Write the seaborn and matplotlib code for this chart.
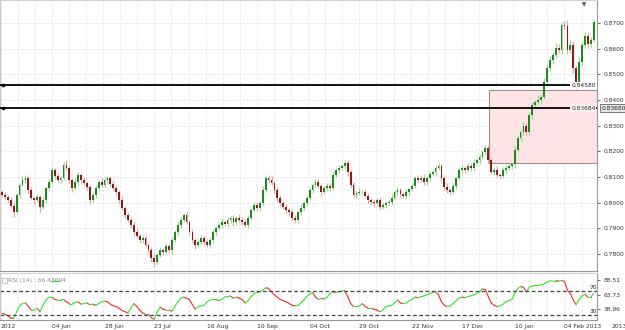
import matplotlib
matplotlib.use("Agg")
import matplotlib.pyplot as plt
import matplotlib.transforms as mtransforms
from matplotlib.patches import Rectangle
import numpy as np
import pandas as pd
import seaborn as sns

# daily closes, 10 May 2012 .. 18 Feb 2013 (weekdays)
close = [
    0.8030, 0.8022, 0.8010, 0.7987, 0.7963, 0.8030, 0.8069, 0.8088, 0.8096, 0.8049,
    0.8018, 0.8010, 0.8022, 0.7983, 0.8010, 0.8057, 0.8080, 0.8127, 0.8104, 0.8088,
    0.8096, 0.8147, 0.8135, 0.8088, 0.8057, 0.8080, 0.8108, 0.8088, 0.8076, 0.8061,
    0.8010, 0.8030, 0.8057, 0.8080, 0.8069, 0.8088, 0.8096, 0.8072, 0.8057, 0.8041,
    0.8010, 0.7979, 0.7952, 0.7932, 0.7913, 0.7885, 0.7870, 0.7854, 0.7862, 0.7835,
    0.7815, 0.7784, 0.7768, 0.7796, 0.7815, 0.7807, 0.7831, 0.7815, 0.7854, 0.7885,
    0.7913, 0.7932, 0.7952, 0.7924, 0.7885, 0.7854, 0.7835, 0.7846, 0.7862, 0.7846,
    0.7835, 0.7854, 0.7885, 0.7901, 0.7913, 0.7924, 0.7916, 0.7932, 0.7940, 0.7924,
    0.7940, 0.7932, 0.7924, 0.7913, 0.7940, 0.7971, 0.7991, 0.7979, 0.7998, 0.8049,
    0.8096, 0.8088, 0.8076, 0.8049, 0.8018, 0.7998, 0.7983, 0.7971, 0.7963, 0.7940,
    0.7932, 0.7963, 0.7979, 0.7998, 0.8018, 0.8049, 0.8069, 0.8080, 0.8065, 0.8041,
    0.8057, 0.8065, 0.8057, 0.8108, 0.8127, 0.8135, 0.8143, 0.8154, 0.8119, 0.8069,
    0.8030, 0.8037, 0.8041, 0.8041, 0.8026, 0.8010, 0.8002, 0.7998, 0.8010, 0.7983,
    0.7991, 0.7998, 0.8002, 0.8018, 0.8041, 0.8049, 0.8033, 0.8026, 0.8041, 0.8053,
    0.8065, 0.8096, 0.8088, 0.8096, 0.8080, 0.8096, 0.8111, 0.8119, 0.8135, 0.8143,
    0.8096, 0.8061, 0.8049, 0.8041, 0.8065, 0.8096, 0.8127, 0.8135, 0.8127, 0.8143,
    0.8135, 0.8154, 0.8166, 0.8178, 0.8197, 0.8213, 0.8166, 0.8119, 0.8127, 0.8108,
    0.8104, 0.8127, 0.8135, 0.8143, 0.8150, 0.8205, 0.8252, 0.8275, 0.8299, 0.8275,
    0.8342, 0.8381, 0.8392, 0.8400, 0.8412, 0.8470, 0.8525, 0.8556, 0.8576, 0.8603,
    0.8595, 0.8693, 0.8689, 0.8595, 0.8615, 0.8525, 0.8462, 0.8548, 0.8615, 0.8650,
    0.8618, 0.8634, 0.8704,
]
first_open = 0.8041

# wick lengths above / below the body, in pips
up_wick = [
    8, 12, 6, 10, 15, 9, 7, 14, 10, 6, 12, 9, 11, 8, 16, 7, 10, 13, 9, 12,
    8, 10, 18, 6, 9, 14, 11, 7, 12, 9, 6, 13, 10, 8, 15, 11, 9, 7, 12, 10,
    8, 14, 9, 11, 7, 13, 10, 8, 12, 9, 6, 11, 15, 9, 10, 8, 13, 7, 12, 9,
    14, 10, 8, 16, 9, 12, 7, 11, 10, 8, 13, 9, 12, 8, 10, 14, 7, 11, 9, 12,
    8, 15, 10, 9, 13, 7, 12, 10, 8, 14, 9, 11, 16, 8, 10, 12, 9, 13, 7, 11,
    10, 8, 14, 9, 12, 10, 7, 13, 11, 9, 8, 12, 10, 15, 9, 11, 8, 13, 10, 7,
    12, 9, 14, 8, 11, 10, 9, 13, 7, 12, 10, 8, 11, 14, 9, 12, 7, 10, 13, 8,
    11, 9, 12, 10, 16, 8, 13, 9, 11, 10, 7, 12, 14, 9, 10, 8, 13, 11, 9, 12,
    10, 15, 8, 11, 9, 13, 10, 7, 12, 14, 9, 11, 10, 13, 8, 16, 12, 9, 14, 11,
    10, 13, 9, 18, 12, 15, 10, 14, 11, 20, 16, 12, 14, 22, 18, 15, 12, 19, 13, 16,
    14, 12, 10,
]
lo_wick = [
    10, 7, 13, 9, 18, 8, 11, 6, 12, 10, 9, 14, 8, 20, 10, 12, 7, 9, 13, 8,
    11, 9, 7, 12, 15, 8, 10, 13, 9, 11, 16, 8, 12, 10, 7, 9, 14, 11, 8, 12,
    10, 9, 13, 8, 11, 14, 9, 12, 10, 8, 13, 15, 20, 10, 9, 12, 8, 11, 14, 9,
    10, 12, 8, 9, 13, 11, 16, 10, 8, 12, 9, 14, 10, 11, 8, 13, 9, 12, 10, 15,
    11, 8, 12, 10, 14, 9, 7, 11, 13, 10, 8, 12, 9, 11, 14, 10, 8, 13, 16, 9,
    12, 10, 11, 8, 13, 9, 12, 10, 7, 14, 9, 11, 13, 8, 10, 12, 9, 11, 14, 10,
    8, 13, 9, 11, 10, 12, 8, 14, 9, 11, 10, 12, 9, 13, 8, 11, 10, 9, 12, 14,
    8, 10, 13, 9, 11, 10, 12, 8, 14, 9, 11, 13, 10, 12, 9, 11, 8, 12, 10, 9,
    13, 11, 9, 14, 10, 12, 16, 9, 11, 10, 12, 9, 13, 10, 11, 14, 9, 12, 10, 13,
    11, 15, 12, 10, 14, 9, 13, 11, 16, 12, 10, 14, 12, 15, 11, 18, 24, 13, 10, 12,
    14, 11, 9,
]

# RSI(14)
rsi = [
    32, 31, 28, 24, 23.5, 35, 45, 49, 50, 44, 38, 38, 41, 35, 46, 55, 60, 60, 56, 55,
    55, 56, 52, 49, 49, 51, 52, 48, 49, 50, 47, 48, 46, 49, 52, 53, 52, 48, 45, 44,
    41, 37, 35, 33, 41, 49, 44, 38, 33, 31, 31, 25, 22, 35, 43, 39, 38, 38, 36, 44,
    52, 58, 60, 58, 56, 47, 39, 44, 45, 46, 52, 55, 56, 56, 54, 56, 60, 61, 62, 58,
    60, 58, 56, 50, 54, 61, 66, 68, 69, 72, 76, 75, 69, 64, 60, 56, 54, 52, 49, 46,
    45, 46, 50, 55, 61, 65, 68, 60, 56, 58, 57, 60, 66, 69, 68, 69, 70.5, 71, 61, 49,
    44, 44, 45, 49, 44, 41, 41, 39, 38, 35, 38, 44, 45, 46, 50, 55, 50, 49, 50, 54,
    56, 60, 59, 61, 62, 64, 66, 68, 69, 64, 52, 46, 44, 45, 49, 54, 58, 60, 59, 61,
    62, 64, 66, 69, 74, 73, 61, 50, 46, 44, 45, 48, 52, 54, 56, 66, 75, 78, 77, 69,
    77, 79, 80, 80, 81, 82.5, 86, 87.6, 88, 88, 87.6, 88.51, 87, 72, 66, 55, 47, 56, 62, 65,
    60, 60, 66.43,
]
rsi_label = "RSI (14) : 66.43094"

price_ticks = [0.78, 0.79, 0.80, 0.81, 0.82, 0.83, 0.84, 0.85, 0.86, 0.87]
rsi_ticks = [88.51, 63.73, 38.96]
rsi_levels = [70, 30]
tick_dates = ["2012-06-04", "2012-06-28", "2012-07-23", "2012-08-16", "2012-09-10",
              "2012-10-04", "2012-10-29", "2012-11-22", "2012-12-17", "2013-01-10",
              "2013-02-04"]
level_lines = [0.84580, 0.83684]
last_price_box = "0.83680"
zone_start = "2012-12-28"
zone_low, zone_high = 0.8154, 0.8439

dates = pd.bdate_range("2012-05-10", periods=len(close))
x = np.arange(len(close))
c = np.array(close)
o = np.array([first_open] + close[:-1])
hi = np.maximum(o, c) + np.array(up_wick) / 10000
lo = np.minimum(o, c) - np.array(lo_wick) / 10000
up = c >= o

sns.set_style("white")
plt.rcParams["font.family"] = ["DejaVu Sans"]

fig = plt.figure(figsize=(6.25, 3.3), dpi=100)
ax = fig.add_axes([0, 0.1788, 0.9552, 0.8212])
ax2 = fig.add_axes([0, 0.0303, 0.9552, 0.1424], sharex=ax)

tick_idx = [int(dates.get_loc(pd.Timestamp(d))) for d in tick_dates]
tick_lbl = [pd.Timestamp(d).strftime("%d %b") for d in tick_dates]
tick_lbl[-1] = tick_lbl[-1] + " 2013"

# vertical grid: every third of a label step
step = (tick_idx[-1] - tick_idx[0]) / (len(tick_idx) - 1) / 3
grid_x = np.arange(tick_idx[0] - 3 * step, len(close) + 1, step)
for a in (ax, ax2):
    for gx in grid_x:
        a.axvline(gx, color="#e4e4e4", lw=0.6, ls=(0, (3, 2)), zorder=0)

# highlighted zone
z0 = dates.get_loc(pd.Timestamp(zone_start)) + 0.2
ax.add_patch(Rectangle((z0, zone_low), len(close) + 5 - z0, zone_high - zone_low,
                       facecolor="#ffe3e5", edgecolor="#a09090", lw=0.8, zorder=1))

# candles
wick_col = np.where(up, "#9fd89f", "#e3a9a9")
body_col = np.where(up, "#1f8a1f", "#8e1b1b")
ax.vlines(x, lo, hi, colors=wick_col, lw=0.9, zorder=2)
ax.bar(x, np.maximum(np.abs(c - o), 0.00015), bottom=np.minimum(o, c), width=0.62,
       color=body_col, lw=0, zorder=3)

ax.set_xlim(-0.68, 203.1)
ax.set_ylim(0.7733, 0.8790)
ax.set_yticks(price_ticks)
ax.set_yticklabels([f"{v:.4f}" for v in price_ticks])
ax.yaxis.tick_right()
ax.grid(True, axis="y", color="#e4e4e4", lw=0.6, ls=(0, (3, 2)))
ax.tick_params(axis="y", labelsize=4.3, colors="#333333", length=2, width=0.5, pad=3)
ax.tick_params(axis="x", bottom=False, labelbottom=False)
ax.set_xlabel("")
ax.set_ylabel("")

# level lines
for v in level_lines:
    ax.axhline(v, color="black", lw=1.3, zorder=4)
    ax.plot([0.3], [v], marker="s", ms=1.6, color="black", zorder=5)
    ax.annotate("", xy=(1.0, v), xycoords=("axes fraction", "data"),
                xytext=(0.984, v), textcoords=("axes fraction", "data"),
                arrowprops=dict(arrowstyle="-|>", color="black", lw=1, mutation_scale=4),
                zorder=5)
    ax.text(194.3, v, f"{v:.5f}", fontsize=4.3, color="#222222", ha="left", va="center",
            bbox=dict(boxstyle="square,pad=0.15", fc="white", ec="none"), zorder=6)

trans = mtransforms.blended_transform_factory(ax.transAxes, ax.transData)
ax.text(1.008, level_lines[1], last_price_box, transform=trans, fontsize=4.3, color="#222222",
        ha="left", va="center", clip_on=False,
        bbox=dict(boxstyle="square,pad=0.25", fc="#e6e6e6", ec="#666666", lw=0.6))
ax.text(0.978, 0.993, "\u25bc", transform=ax.transAxes, fontsize=4, color="#555555",
        ha="center", va="top")

# RSI panel
rows = []
for k in range(len(rsi) - 1):
    d = "up" if rsi[k + 1] >= rsi[k] else "down"
    rows.append((k, x[k], rsi[k], d))
    rows.append((k, x[k + 1], rsi[k + 1], d))
df = pd.DataFrame(rows, columns=["seg", "x", "rsi", "dir"])
sns.lineplot(data=df, x="x", y="rsi", hue="dir", units="seg", estimator=None,
             palette={"up": "#33e833", "down": "#f23030"}, lw=0.8, legend=False, ax=ax2)
for lv in rsi_levels:
    ax2.axhline(lv, color="#444444", lw=0.9, ls=(0, (3, 2)))
    ax2.text(201.7, lv + 1.5, str(lv), fontsize=4.3, color="#222222", ha="center", va="bottom")

ax2.set_ylim(20.9, 101.3)
ax2.set_yticks(rsi_ticks)
ax2.set_yticklabels([f"{v:.2f}" for v in rsi_ticks])
ax2.yaxis.tick_right()
ax2.tick_params(axis="y", labelsize=4.3, colors="#333333", length=2, width=0.5, pad=3)
ax2.set_xticks(tick_idx)
ax2.set_xticklabels(tick_lbl)
ax2.tick_params(axis="x", labelsize=4.3, colors="#333333", length=2, width=0.5, pad=1)
for lab in ax2.get_xticklabels():
    lab.set_ha("left")
ax2.set_xlim(-0.68, 203.1)
ax2.set_xlabel("")
ax2.set_ylabel("")

ax2.add_patch(Rectangle((0.004, 0.78), 0.007, 0.12, transform=ax2.transAxes,
                        fill=False, ec="#aaaaaa", lw=0.5))
ax2.text(0.014, 0.84, rsi_label, transform=ax2.transAxes, fontsize=4.3, color="#888888",
         ha="left", va="center")
ax2.plot([0.086, 0.098], [0.84, 0.84], transform=ax2.transAxes, color="#33e833", lw=1)

for a in (ax, ax2):
    for s in a.spines.values():
        s.set_color("#999999")
        s.set_linewidth(0.8)
    a.spines["left"].set_color("#c8c8c8")
    a.spines["top"].set_color("#d0d0d0")

fig.text(0.001, 0.012, "2012", fontsize=4.3, color="#333333", ha="left", va="center")
fig.text(0.978, 0.012, "2013", fontsize=4.3, color="#333333", ha="left", va="center")

fig.savefig("out.png", dpi=100, facecolor="white")
